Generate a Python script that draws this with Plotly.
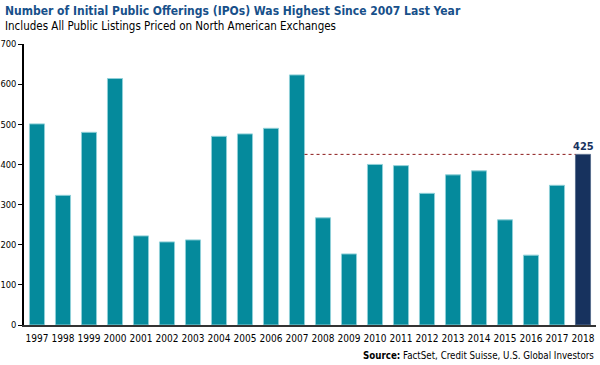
import plotly.graph_objects as go

years = [str(y) for y in range(1997, 2019)]
ipos = [501, 323, 480, 614, 222, 207, 212, 470, 476, 490, 623,
        267, 177, 400, 397, 328, 374, 384, 262, 174, 348, 425]
y_ticks = [0, 100, 200, 300, 400, 500, 600, 700]

teal = "#058a9c"
navy = "#17325e"
colors = [teal] * (len(years) - 1) + [navy]
edge = ["#8fd0d8"] * (len(years) - 1) + ["#5a6f8f"]

FONT = "DejaVu Sans Condensed, Liberation Sans Narrow, Roboto Condensed, Roboto, sans-serif"

fig = go.Figure()
fig.add_trace(go.Bar(
    x=years, y=ipos,
    marker=dict(color=colors, line=dict(color=edge, width=1)),
    width=0.58,
))

last = len(years) - 1
fig.add_shape(type="line", xref="x", yref="y",
              x0=10.29, x1=last - 0.29, y0=ipos[-1], y1=ipos[-1],
              line=dict(color="#8b1a1a", width=1, dash="dot"))

fig.add_annotation(xref="x", yref="y", x=last, y=ipos[-1], text=f"<b>{ipos[-1]}</b>",
                   showarrow=False, yanchor="bottom", yshift=-1,
                   font=dict(family=FONT, size=11, color=navy))

# title + subtitle
fig.add_annotation(xref="paper", yref="paper", x=-0.037, xanchor="left",
                   y=1.117, yanchor="middle", showarrow=False,
                   text="<b>Number of Initial Public Offerings (IPOs) Was Highest Since 2007 Last Year</b>",
                   font=dict(family=FONT, size=12, color="#17508a"))
fig.add_annotation(xref="paper", yref="paper", x=-0.037, xanchor="left",
                   y=1.064, yanchor="middle", showarrow=False,
                   text="Includes All Public Listings Priced on North American Exchanges",
                   font=dict(family=FONT, size=11.5, color="black"))

fig.add_annotation(xref="paper", yref="paper", x=1.0, xanchor="right",
                   y=-0.110, yanchor="middle", showarrow=False,
                   text="<b>Source:</b> FactSet, Credit Suisse, U.S. Global Investors",
                   font=dict(family=FONT, size=9.7, color="black"))

fig.update_layout(
    width=600, height=365,
    margin=dict(l=24, r=4, t=44, b=40, autoexpand=False),
    plot_bgcolor="white", paper_bgcolor="white",
    showlegend=False,
    font=dict(family=FONT, size=10, color="black"),
    xaxis=dict(
        type="category", range=[-0.5, len(years) - 0.5],
        showline=True, linecolor="#333333", linewidth=1.5,
        ticks="", showgrid=False, tickangle=0, automargin=False,
        ticklabelstandoff=3,
        tickfont=dict(size=10, color="black"),
    ),
    yaxis=dict(
        range=[0, 700], tickvals=y_ticks,
        showline=True, linecolor="black", linewidth=1.5,
        ticks="outside", ticklen=4, tickcolor="black",
        showgrid=False, zeroline=False, automargin=False,
        tickfont=dict(size=9.3, color="black"),
    ),
)

fig.write_html("out.html",
               config={"displayModeBar": False},
               post_script="document.body.style.margin='0px';document.body.style.padding='0px';")
